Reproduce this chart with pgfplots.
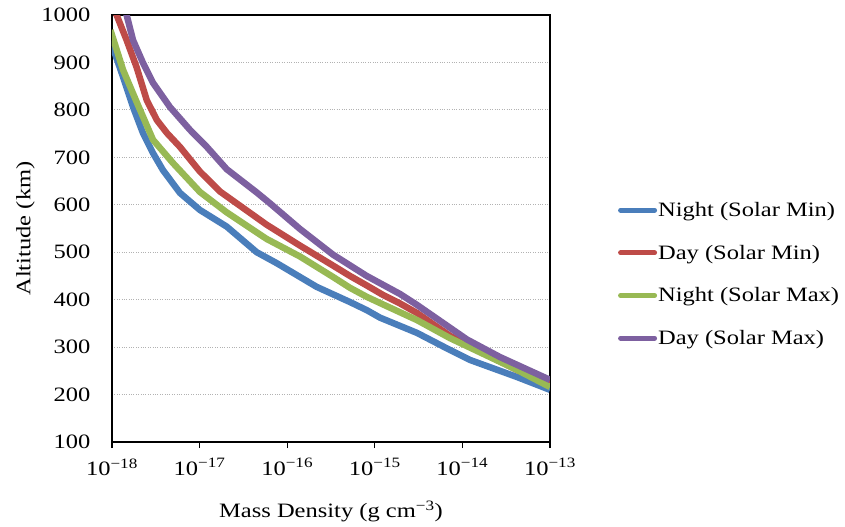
\documentclass[border=0pt]{standalone}
\usepackage{pgfplots}
\pgfplotsset{compat=1.18}
\usepackage{fontspec}
\setmainfont{Liberation Serif}[FakeStretch=1.2]
\definecolor{cblue}{HTML}{4A7EBB}
\definecolor{cred}{HTML}{BE4B48}
\definecolor{cgreen}{HTML}{98B954}
\definecolor{cpurple}{HTML}{7D60A0}
\begin{document}
\begin{tikzpicture}
\path[use as bounding box] (-112bp,-85bp) rectangle (733bp,442bp);
\begin{axis}[
  xmode=log, scale only axis, width=438bp, height=427bp,
  xmin=1e-18, xmax=1e-13, ymin=100, ymax=1000,
  ytick={100,200,...,1000},
  xtick={1e-18,1e-17,1e-16,1e-15,1e-14,1e-13},
  xticklabels={10\textsuperscript{−18},10\textsuperscript{−17},10\textsuperscript{−16},10\textsuperscript{−15},10\textsuperscript{−14},10\textsuperscript{−13}},
  xminorticks=false,
  ymajorgrids, grid style={dotted, gray!60, line width=0.9pt},
  axis line style={line width=1.1pt},
  ytick style={draw=none},
  xtick style={line width=1.1pt, black},
  tick align=outside, xtick pos=lower, ytick pos=left,
  major tick length=6bp,
  tick label style={font=\fontsize{20.5}{24}\selectfont},
  label style={font=\fontsize{20.5}{24}\selectfont},
  /pgf/number format/assume math mode=true,
  /pgf/number format/1000 sep={},
  yticklabel style={xshift=-12bp},
  xticklabel style={yshift=-7bp},
  xlabel={Mass Density (g cm\textsuperscript{−3})},
  ylabel={Altitude (km)},
  xlabel style={yshift=-18bp},
  ylabel style={yshift=0bp},
  legend style={at={(1.155,0.393)}, anchor=west, draw=none, fill=none, inner sep=0pt,
    font=\fontsize{20.5}{24}\selectfont, row sep=25bp, nodes={inner sep=1bp}},
  legend cell align=left,
  legend image code/.code={\draw[#1, line width=5bp, line cap=round] (0bp,0bp) -- (34bp,0bp);},
  every axis plot/.append style={line width=6.5bp, line join=round},
]
\addplot[cblue] coordinates {
(0.97e-18,945) (1.00e-18,937) (1.34e-18,869) (1.74e-18,806) (2.26e-18,751) (2.94e-18,709)
(3.82e-18,673) (5.97e-18,625) (1.01e-17,589) (2.04e-17,554) (4.49e-17,500) (7.59e-17,477)
(2.17e-16,427) (5.21e-16,395) (8.09e-16,378) (1.15e-15,362) (3.03e-15,330) (7.21e-15,294)
(1.22e-14,273) (4.20e-14,237) (1.00e-13,210)};
\addlegendentry{Night (Solar Min)}
\addplot[cred] coordinates {
(1.08e-18,1012) (1.13e-18,1000) (1.47e-18,947) (1.91e-18,890) (2.49e-18,821) (3.24e-18,779)
(4.25e-18,751) (5.97e-18,722) (1.01e-17,670) (1.71e-17,628) (5.83e-17,558) (1.40e-16,514)
(3.33e-16,472) (5.21e-16,450) (8.09e-16,430) (1.24e-15,410) (1.94e-15,392) (3.03e-15,372)
(7.21e-15,324) (1.72e-14,288) (4.20e-14,252) (1.00e-13,222)};
\addlegendentry{Day (Solar Min)}
\addplot[cgreen] coordinates {
(0.96e-18,968) (1.00e-18,958) (1.34e-18,884) (1.93e-18,815) (2.94e-18,737) (4.97e-18,688)
(1.01e-17,627) (2.04e-17,584) (5.83e-17,528) (1.40e-16,491) (3.33e-16,448) (5.21e-16,425)
(8.09e-16,406) (1.24e-15,390) (3.03e-15,357) (7.21e-15,319) (1.72e-14,286) (4.20e-14,252)
(1.00e-13,216)};
\addlegendentry{Night (Solar Max)}
\addplot[cpurple] coordinates {
(1.40e-18,1012) (1.47e-18,1000) (1.74e-18,947) (2.26e-18,899) (2.94e-18,857) (4.59e-18,806)
(7.76e-18,758) (1.21e-17,722) (2.04e-17,675) (4.49e-17,626) (6.37e-17,603) (1.40e-16,549)
(3.33e-16,495) (8.09e-16,450) (1.94e-15,412) (3.03e-15,389) (6.01e-15,351) (1.13e-14,316)
(2.69e-14,279) (1.00e-13,231)};
\addlegendentry{Day (Solar Max)}
\end{axis}
\end{tikzpicture}
\end{document}
